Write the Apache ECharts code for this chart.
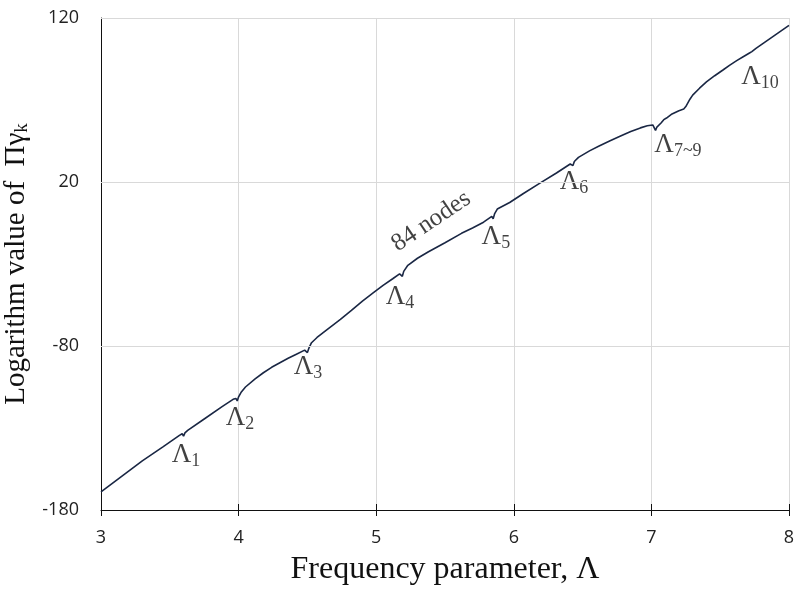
<!DOCTYPE html>
<html>
<head>
<meta charset="utf-8">
<script src="https://cdn.jsdelivr.net/npm/echarts@6/dist/echarts.min.js"></script>
<style>
	html, body { margin: 0; padding: 0; background: #fff; }
	#chart { width: 800px; height: 591px; }
</style>
</head>
<body>
<div id="chart"></div>
<script>
// curve (frequency parameter -> log value)
var lambdaValues = [
	3.00, 3.15, 3.30, 3.45, 3.57, 3.59, 3.60, 3.61, 3.63,
	3.75, 3.88, 3.96, 3.98, 3.99, 4.00, 4.02,
	4.05, 4.12, 4.18, 4.24, 4.30, 4.36, 4.42, 4.48, 4.50, 4.51, 4.53,
	4.57, 4.65, 4.74, 4.82, 4.90, 4.98, 5.05, 5.12, 5.17, 5.19, 5.20, 5.23,
	5.30, 5.38, 5.50, 5.62, 5.70, 5.78, 5.84, 5.85, 5.86, 5.88,
	5.97, 6.07, 6.19, 6.31, 6.41, 6.43, 6.44, 6.47,
	6.55, 6.62, 6.70, 6.78, 6.85, 6.92, 6.97, 7.01, 7.03, 7.04, 7.07,
	7.09, 7.10, 7.11, 7.15, 7.20, 7.235, 7.24, 7.25, 7.28,
	7.30, 7.35, 7.40, 7.46, 7.52, 7.57, 7.62, 7.67, 7.71, 7.72, 7.73, 7.76, 7.82, 7.88, 7.94, 8.00
];
var logValues = [
	-169, -159.5, -150, -141.5, -134.5, -133.5, -135, -133, -131.5,
	-124.5, -117, -112.5, -112, -113.5, -111, -108,
	-105, -100, -96.3, -93, -90.2, -87.5, -85, -82.5, -84, -81.5, -78,
	-74.8, -69.5, -63.8, -58.3, -52.6, -47.5, -43, -39, -36, -37.5, -34.5, -30.8,
	-26.5, -22.5, -17, -11.3, -8, -4.5, -1, -2.5, 0.5, 3.5,
	7.5, 13, 19.3, 25.5, 31, 30, 32.5, 35,
	39, 42, 45.2, 48.2, 50.8, 53, 54.3, 54.8, 51.5, 53.5, 56,
	58, 57.2, 59, 61.5, 63.5, 64.5, 63.5, 66, 70.5,
	73, 77.2, 81, 84.8, 88.3, 91.3, 94, 96.5, 98.5, 97.5, 99.5, 101.5, 105, 108.5, 112, 115.5
];

// annotation labels (Λ subscripts)
var noteX = [3.618, 4.01, 4.504, 5.173, 5.87, 6.437, 7.193, 7.789];
var noteY = [-146.5, -123.9, -92.8, -50.1, -13.5, 20, 42.6, 84];
var noteSub = ['1', '2', '3', '4', '5', '6', '7~9', '10'];

var nodesLabel = { x: 5.4, y: -4.0, text: '84 nodes' };

var yTicks = [-180, -80, 20, 120];

var curve = [];
for (var i = 0; i < lambdaValues.length; i++) {
	curve.push([lambdaValues[i], logValues[i]]);
}
var notes = [];
for (var j = 0; j < noteX.length; j++) {
	notes.push([noteX[j], noteY[j], noteSub[j]]);
}

var serif = '"Liberation Serif", "DejaVu Serif", serif';
var sans = '"Open Sans", "Noto Sans", sans-serif';
var chart = echarts.init(document.getElementById('chart'));

var option = {
	animation: false,
	backgroundColor: '#ffffff',
	grid: { left: 101, right: 11, top: 18, bottom: 81, containLabel: false, outerBoundsMode: 'none' },
	xAxis: [
		{
			type: 'value',
			min: 3,
			max: 8,
			interval: 1,
			name: 'Frequency parameter, Λ',
			nameLocation: 'middle',
			nameGap: 44,
			nameTextStyle: { fontFamily: serif, fontSize: 32, color: '#111' },
			axisLine: { show: true, onZero: false, lineStyle: { color: '#111', width: 1 } },
			axisTick: { show: true, length: 6, lineStyle: { color: '#111' } },
			axisLabel: { fontFamily: sans, fontSize: 18, color: '#222', margin: 19 },
			splitLine: { show: true, lineStyle: { color: '#d9d9d9', width: 1 } }
		},
		{
			// upper half of the crossing tick marks
			type: 'value',
			min: 3,
			max: 8,
			interval: 1,
			position: 'bottom',
			axisLine: { show: false, onZero: false },
			axisTick: { show: true, inside: true, length: 6, lineStyle: { color: '#111' } },
			axisLabel: { show: false },
			splitLine: { show: false }
		}
	],
	yAxis: {
		type: 'value',
		min: -180,
		max: 120,
		name: 'Logarithm value of  Πγ{k|k}',
		nameLocation: 'middle',
		nameGap: 68,
		nameTextStyle: {
			fontFamily: serif,
			fontSize: 29,
			color: '#111',
			rich: {
				k: { fontFamily: serif, fontSize: 19, color: '#111', padding: [12, 0, 0, 0] }
			}
		},
		axisLine: { show: true, onZero: false, lineStyle: { color: '#111', width: 1 } },
		axisTick: { show: false },
		axisLabel: {
			customValues: yTicks,
			fontFamily: sans,
			fontSize: 18,
			color: '#222',
			margin: 22
		},
		splitLine: { show: false }
	},
	series: [
		{
			// horizontal grid lines at the tick values
			type: 'line',
			data: [],
			z: 1,
			markLine: {
				silent: true,
				symbol: 'none',
				label: { show: false },
				lineStyle: { color: '#d9d9d9', width: 1, type: 'solid' },
				data: yTicks.slice(1).map(function (v) { return { yAxis: v }; })
			}
		},
		{
			name: 'log product',
			type: 'line',
			data: curve,
			z: 3,
			showSymbol: false,
			smooth: false,
			lineStyle: { color: '#1a2744', width: 1.6 }
		},
		{
			type: 'scatter',
			data: notes,
			symbolSize: 0,
			z: 4,
			label: {
				show: true,
				position: 'inside',
				formatter: function (p) {
					return '{L|Λ}{s|' + p.data[2] + '}';
				},
				rich: {
					L: { fontFamily: serif, fontSize: 27, color: '#111' },
					s: { fontFamily: serif, fontSize: 18, color: '#111', padding: [12, 0, 0, 0] }
				}
			}
		},
		{
			type: 'scatter',
			data: [[nodesLabel.x, nodesLabel.y]],
			symbolSize: 0,
			z: 4,
			label: {
				show: true,
				position: 'inside',
				rotate: 34,
				formatter: nodesLabel.text,
				fontFamily: serif,
				fontSize: 25,
				color: '#111'
			}
		}
	]
};

chart.setOption(option);
</script>
</body>
</html>
